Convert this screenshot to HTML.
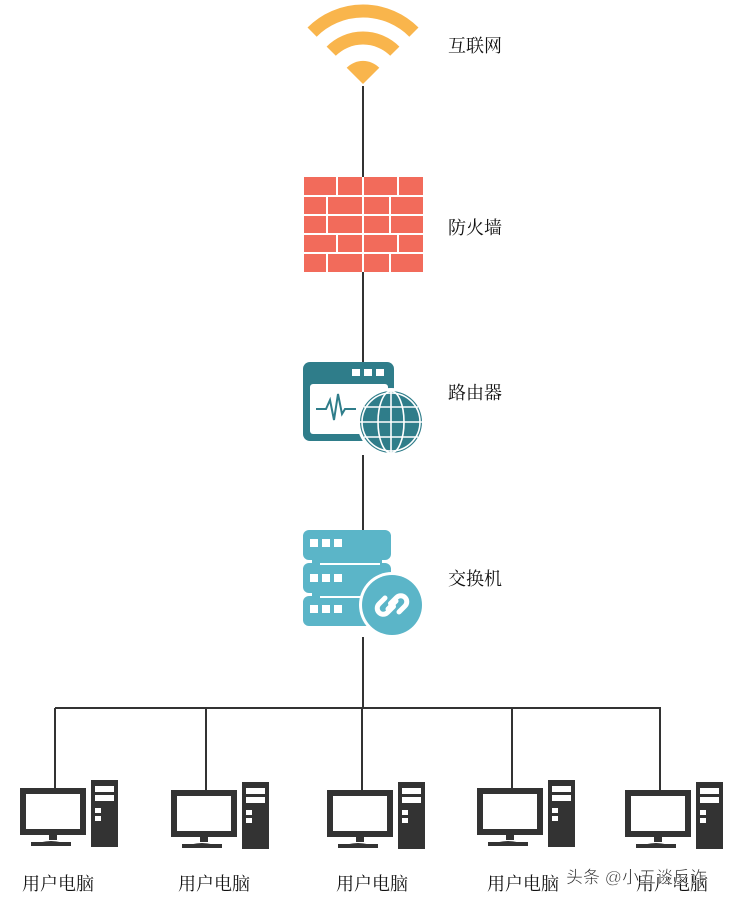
<!DOCTYPE html>
<html><head><meta charset="utf-8"><style>
html,body{margin:0;padding:0;background:#fff;}
svg{display:block}
text{font-family:"Liberation Serif","Noto Serif CJK SC",serif;font-size:18px;fill:#111;}
</style></head><body>
<svg width="736" height="902" viewBox="0 0 736 902" xmlns="http://www.w3.org/2000/svg">
<g stroke="#333" stroke-width="2" fill="none">
<line x1="363" y1="86" x2="363" y2="177"/>
<line x1="363" y1="272" x2="363" y2="362"/>
<line x1="363" y1="455" x2="363" y2="530"/>
<line x1="363" y1="637" x2="363" y2="708"/>
<line x1="55" y1="708" x2="661" y2="708"/>
<line x1="55" y1="708" x2="55" y2="790"/>
<line x1="206" y1="708" x2="206" y2="792"/>
<line x1="362" y1="708" x2="362" y2="792"/>
<line x1="512" y1="708" x2="512" y2="790"/>
<line x1="660" y1="708" x2="660" y2="792"/>
</g>
<g fill="none" stroke="#F9B54C" stroke-width="13">
<path d="M312.1 32.1 A72 72 0 0 1 413.9 32.1"/>
<path d="M331.2 51.2 A45 45 0 0 1 394.8 51.2"/>
</g>
<path d="M363 84 L346.7 67.7 A23 23 0 0 1 379.3 67.7 Z" fill="#F9B54C"/>
<rect x="304" y="177" width="119" height="95" fill="#F26B5B"/>
<g stroke="#fff" stroke-width="2">
<line x1="304" y1="196" x2="423" y2="196"/>
<line x1="304" y1="215" x2="423" y2="215"/>
<line x1="304" y1="234" x2="423" y2="234"/>
<line x1="304" y1="253" x2="423" y2="253"/>
<line x1="337" y1="177" x2="337" y2="196"/><line x1="363" y1="177" x2="363" y2="196"/><line x1="398" y1="177" x2="398" y2="196"/>
<line x1="327" y1="196" x2="327" y2="215"/><line x1="363" y1="196" x2="363" y2="215"/><line x1="390" y1="196" x2="390" y2="215"/>
<line x1="327" y1="215" x2="327" y2="234"/><line x1="363" y1="215" x2="363" y2="234"/><line x1="390" y1="215" x2="390" y2="234"/>
<line x1="337" y1="234" x2="337" y2="253"/><line x1="363" y1="234" x2="363" y2="253"/><line x1="398" y1="234" x2="398" y2="253"/>
<line x1="327" y1="253" x2="327" y2="272"/><line x1="363" y1="253" x2="363" y2="272"/><line x1="390" y1="253" x2="390" y2="272"/>
</g>
<rect x="303" y="362" width="91" height="79" rx="7" fill="#2F7D8A"/>
<rect x="310" y="384" width="78" height="50" rx="3" fill="#fff"/>
<rect x="352" y="369" width="8" height="7" fill="#fff"/><rect x="364" y="369" width="8" height="7" fill="#fff"/><rect x="376" y="369" width="8" height="7" fill="#fff"/>
<path d="M316 409 L326 409 L330 400 L334 420 L338 394 L342 414 L345 409 L356 409" stroke="#2F7D8A" stroke-width="2" fill="none"/>
<circle cx="391" cy="422" r="34" fill="#fff"/>
<circle cx="391" cy="422" r="31" fill="#2F7D8A"/>
<g stroke="#fff" stroke-width="1.6" fill="none">
<ellipse cx="391" cy="422" rx="13" ry="31"/>
<line x1="391" y1="391" x2="391" y2="453"/>
<line x1="360" y1="422" x2="422" y2="422"/>
<line x1="364" y1="407" x2="418" y2="407"/>
<line x1="364" y1="437" x2="418" y2="437"/>
<circle cx="391" cy="422" r="29"/>
</g>
<g fill="#5BB5C8">
<rect x="303" y="530" width="88" height="30" rx="6"/>
<rect x="303" y="563" width="88" height="30" rx="6"/>
<rect x="303" y="596" width="88" height="30" rx="6"/>
<rect x="312" y="558" width="70" height="8"/>
<rect x="312" y="591" width="70" height="8"/>
</g>
<g fill="#fff">
<rect x="310" y="539" width="8" height="8"/><rect x="322" y="539" width="8" height="8"/><rect x="334" y="539" width="8" height="8"/>
<rect x="310" y="574" width="8" height="8"/><rect x="322" y="574" width="8" height="8"/><rect x="334" y="574" width="8" height="8"/>
<rect x="310" y="605" width="8" height="8"/><rect x="322" y="605" width="8" height="8"/><rect x="334" y="605" width="8" height="8"/>
<rect x="320" y="563" width="60" height="2"/><rect x="320" y="596" width="60" height="2"/>
</g>
<circle cx="392" cy="605" r="33" fill="#fff"/>
<circle cx="392" cy="605" r="30" fill="#5BB5C8"/>
<g stroke="#fff" stroke-width="5" fill="none" stroke-linecap="round">
<path d="M385 598 l-6 6 a6 6 0 0 0 8.5 8.5 l6-6"/>
<path d="M399 612 l6-6 a6 6 0 0 0 -8.5 -8.5 l-6 6"/>
<line x1="388" y1="609" x2="396" y2="601"/>
</g>
<text x="448" y="52">互联网</text>
<text x="448" y="234">防火墙</text>
<text x="448" y="399">路由器</text>
<text x="448" y="585">交换机</text>
<defs>
<g id="pc">
<rect x="-35" y="0" width="66" height="47" fill="#333"/>
<rect x="-29" y="6" width="54" height="35" fill="#fff"/>
<rect x="-6" y="47" width="8" height="5" fill="#333"/>
<path d="M-24 58 Q-4 48 16 58 Z" fill="#333"/>
<rect x="-24" y="54" width="40" height="4" fill="#333"/>
<rect x="36" y="-8" width="27" height="67" fill="#333"/>
<rect x="40" y="-2" width="19" height="6" fill="#fff"/>
<rect x="40" y="7" width="19" height="6" fill="#fff"/>
<rect x="40" y="20" width="6" height="5" fill="#fff"/>
<rect x="40" y="28" width="6" height="5" fill="#fff"/>
</g>
</defs>
<use href="#pc" x="55" y="788"/>
<use href="#pc" x="206" y="790"/>
<use href="#pc" x="362" y="790"/>
<use href="#pc" x="512" y="788"/>
<use href="#pc" x="660" y="790"/>
<text x="22" y="890">用户电脑</text>
<text x="178" y="890">用户电脑</text>
<text x="336" y="890">用户电脑</text>
<text x="487" y="890">用户电脑</text>
<text x="636" y="890">用户电脑</text>
<text x="566" y="883" style="font-family:'Liberation Sans','Noto Sans CJK SC',sans-serif;font-size:17px;fill:#222;stroke:#fff;stroke-width:0.5">头条 @小五谈反诈</text>
</svg>
</body></html>
